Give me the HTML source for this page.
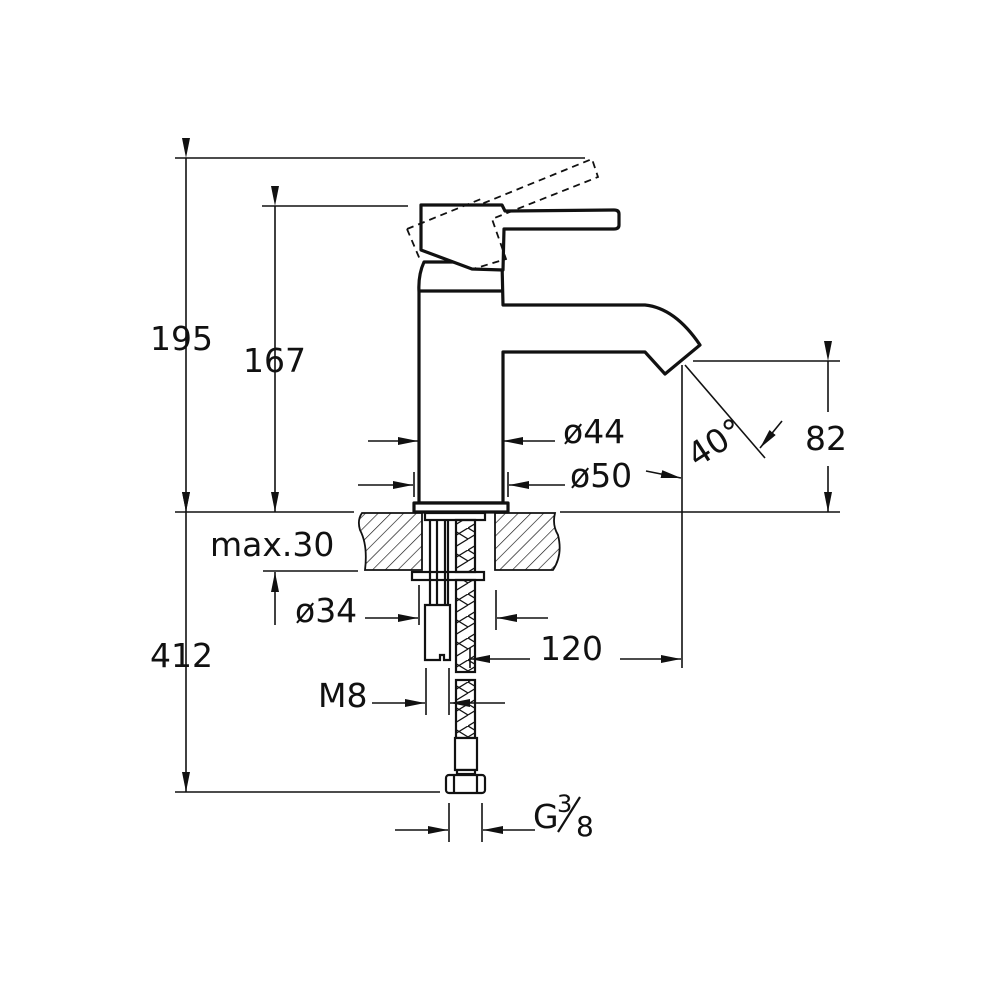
<!DOCTYPE html>
<html><head><meta charset="utf-8"><style>
html,body{margin:0;padding:0;background:#fff;width:1000px;height:1000px;overflow:hidden}
text{font-family:"DejaVu Sans","Liberation Sans",sans-serif;fill:#111}
</style></head><body>
<svg width="1000" height="1000" viewBox="0 0 1000 1000" xmlns="http://www.w3.org/2000/svg">
<defs>
<pattern id="h" width="9" height="9" patternUnits="userSpaceOnUse" patternTransform="rotate(45)">
<line x1="0" y1="0" x2="0" y2="9" stroke="#111" stroke-width="1.3"/></pattern>
<pattern id="x" width="18" height="22" patternUnits="userSpaceOnUse">
<path d="M0 0 L18 11 L0 22 M18 0 L0 11" stroke="#111" stroke-width="1.3" fill="none"/></pattern>
<marker id="a" viewBox="0 0 20 8" refX="20" refY="4" markerWidth="20" markerHeight="8" markerUnits="userSpaceOnUse" orient="auto"><path d="M0 0 L20 4 L0 8Z" fill="#111"/></marker>
</defs>
<g stroke="#111" stroke-width="1.6" fill="none">
<line x1="175" y1="158" x2="585" y2="158"/>
<line x1="262" y1="206" x2="408" y2="206"/>
<line x1="175" y1="512" x2="354" y2="512"/>
<line x1="560" y1="512" x2="840" y2="512"/>
<line x1="693" y1="361" x2="840" y2="361"/>
<line x1="263" y1="571" x2="358" y2="571"/>
<line x1="175" y1="792" x2="440" y2="792"/>
<line x1="682" y1="365" x2="682" y2="668"/>
<line x1="186" y1="158" x2="186" y2="512" marker-start="url(#a)" marker-end="url(#a)"/>
<line x1="186" y1="512" x2="186" y2="792" marker-start="url(#a)" marker-end="url(#a)"/>
<line x1="275" y1="206" x2="275" y2="512" marker-start="url(#a)" marker-end="url(#a)"/>
<line x1="828" y1="361" x2="828" y2="412" marker-start="url(#a)"/>
<line x1="828" y1="466" x2="828" y2="512" marker-end="url(#a)"/>
<line x1="275" y1="625" x2="275" y2="572" marker-end="url(#a)"/>
<line x1="368" y1="441" x2="418" y2="441" marker-end="url(#a)"/>
<line x1="555" y1="441" x2="503" y2="441" marker-end="url(#a)"/>
<line x1="358" y1="485" x2="413" y2="485" marker-end="url(#a)"/>
<line x1="565" y1="485" x2="509" y2="485" marker-end="url(#a)"/>
<line x1="414" y1="472" x2="414" y2="497"/>
<line x1="508" y1="472" x2="508" y2="497"/>
<line x1="646" y1="471" x2="681" y2="478" marker-end="url(#a)"/>
<line x1="685" y1="365" x2="765" y2="458"/>
<line x1="782" y1="421" x2="760" y2="448" marker-end="url(#a)"/>
<line x1="365" y1="618" x2="418" y2="618" marker-end="url(#a)"/>
<line x1="548" y1="618" x2="497" y2="618" marker-end="url(#a)"/>
<line x1="419" y1="585" x2="419" y2="625"/>
<line x1="496" y1="590" x2="496" y2="630"/>
<line x1="530" y1="659" x2="470" y2="659" marker-end="url(#a)"/>
<line x1="620" y1="659" x2="681" y2="659" marker-end="url(#a)"/>
<line x1="470" y1="648" x2="470" y2="668"/>
<line x1="372" y1="703" x2="425" y2="703" marker-end="url(#a)"/>
<line x1="505" y1="703" x2="450" y2="703" marker-end="url(#a)"/>
<line x1="426" y1="668" x2="426" y2="715"/>
<line x1="449" y1="668" x2="449" y2="715"/>
<line x1="395" y1="830" x2="448" y2="830" marker-end="url(#a)"/>
<line x1="535" y1="830" x2="483" y2="830" marker-end="url(#a)"/>
<line x1="449" y1="803" x2="449" y2="842"/>
<line x1="482" y1="803" x2="482" y2="842"/>
<line x1="558" y1="832" x2="580" y2="797" stroke-width="2.2"/>
</g>
<g stroke="#111" stroke-width="1.8">
<path d="M362 513 L422 513 L422 570 L365 570 Q368 545 360 530 Q357 520 362 513Z" fill="url(#h)"/>
<path d="M495 513 L555 513 Q552 525 558 535 Q563 555 553 570 L495 570Z" fill="url(#h)"/>
</g>
<g stroke="#111" stroke-width="3.2" fill="#fff" stroke-linejoin="round">
<path d="M419 503 L419 292 Q418 275 424 262 L502 262 L503 305 L645 305 Q675 308 700 345 L665 374 L645 352 L503 352 L503 503Z"/>
<line x1="420" y1="291" x2="502" y2="291"/>
<path d="M421 205 L502 205 L505 211 L614 210 Q619 210 619 214 L619 225 Q619 229 614 229 L504 229 L503 270 L472 269 L421 250Z"/>
<rect x="414" y="503" width="94" height="9"/>
</g>
<g stroke="#111" stroke-width="1.8" fill="none" stroke-dasharray="7,5">
<path d="M407 229 L481 199 L484 203 L592 159 L598 177 L492 219 L506 259 L473 269"/>
<path d="M407 229 L421 262"/>
</g>
<g stroke="#111" stroke-width="2.2" fill="#fff">
<rect x="425" y="513" width="60" height="7"/>
<rect x="412" y="572" width="72" height="8"/>
<line x1="430" y1="520" x2="430" y2="605"/><line x1="437" y1="520" x2="437" y2="605"/>
<line x1="445" y1="520" x2="445" y2="605"/><line x1="448" y1="520" x2="448" y2="605"/>
<path d="M425 605 L450 605 L450 660 L444 660 L444 655 L440 655 L440 660 L425 660Z"/>
<rect x="456" y="520" width="19" height="52" fill="url(#x)"/>
<rect x="456" y="580" width="19" height="92" fill="url(#x)"/>
<rect x="456" y="680" width="19" height="58" fill="url(#x)"/>
<rect x="455" y="738" width="22" height="32"/>
<rect x="457" y="770" width="18" height="4"/>
<rect x="446" y="775" width="39" height="18" rx="3"/>
<line x1="454" y1="775" x2="454" y2="793"/><line x1="477" y1="775" x2="477" y2="793"/>
</g>
<g font-size="33">
<text x="150" y="350">195</text>
<text x="243" y="372">167</text>
<text x="150" y="667">412</text>
<text x="805" y="450">82</text>
<text x="210" y="556">max.30</text>
<text x="295" y="622">ø34</text>
<text x="563" y="443">ø44</text>
<text x="570" y="487">ø50</text>
<text x="540" y="660">120</text>
<text x="318" y="707">M8</text>
<text x="533" y="828">G</text>
<text x="557" y="812" font-size="24">3</text>
<text x="576" y="836" font-size="28">8</text>
<text x="0" y="0" transform="translate(697,468) rotate(-33)">40°</text>
</g>
</svg>
</body></html>
